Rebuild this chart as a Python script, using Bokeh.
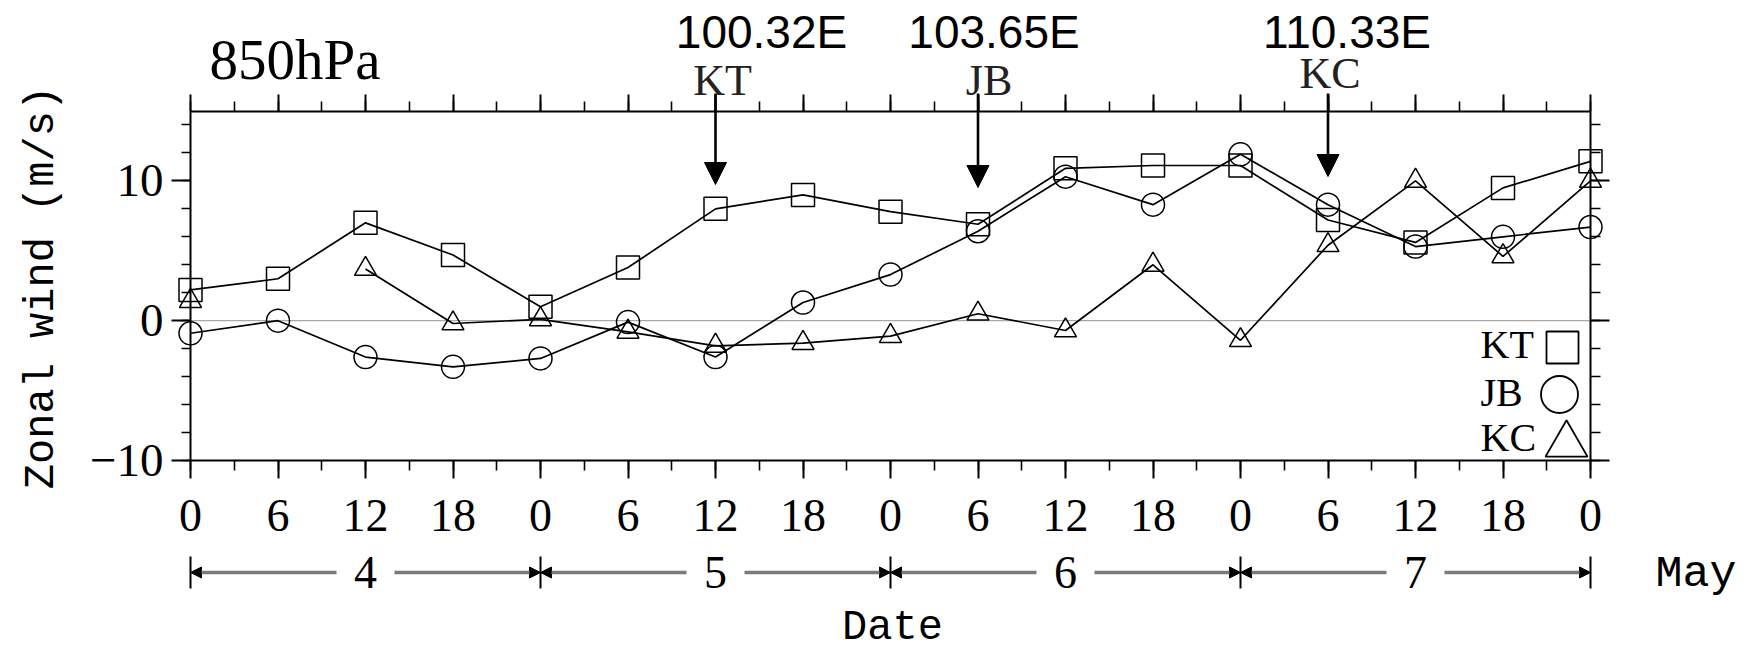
import math
from bokeh.plotting import figure
from bokeh.models import LinearAxis, FixedTicker, Range1d, Label, Arrow, NormalHead
from bokeh.embed import file_html
from bokeh.resources import INLINE

nan = float("nan")

# ---------------- data ----------------
hours = [0, 6, 12, 18, 24, 30, 36, 42, 48, 54, 60, 66, 72, 78, 84, 90, 96]
hour_labels = ["0", "6", "12", "18", "0", "6", "12", "18", "0", "6", "12", "18",
               "0", "6", "12", "18", "0"]
kt = [2.2, 3.0, 7.0, 4.7, 1.0, 3.8, 8.0, 9.0, 7.8, 6.9, 10.9, 11.1, 11.1, 7.2, 5.6, 9.5, 11.4]
jb = [-0.9, 0.0, -2.6, -3.3, -2.7, -0.1, -2.6, 1.3, 3.3, 6.4, 10.3, 8.3, 11.9, 8.3, 5.3, 6.0, 6.7]
kc = [1.4, nan, 3.7, -0.2, 0.1, -0.8, -1.8, -1.6, -1.1, 0.5, -0.7, 4.0, -1.4, 5.4, 10.0, 4.6, 10.0]
days = ["4", "5", "6", "7"]
day_start_hours = [0, 24, 48, 72]
stations = ["KT", "JB", "KC"]
station_hours = [36, 54, 78]
station_lons = ["100.32E", "103.65E", "110.33E"]
y_ticks = [-10, 0, 10]
y_tick_labels = ["\u221210", "0", "10"]
Y_MIN, Y_MAX = -10, 15
X_MIN, X_MAX = hours[0], hours[-1]

# ---------------- layout (canvas pixels -> data) ----------------
W, H = 1751, 650
BOX_L, BOX_R, BOX_T, BOX_B = 190.0, 1590.0, 110.5, 460.0
PXH = (BOX_R - BOX_L) / (X_MAX - X_MIN)
PXU = (BOX_B - BOX_T) / (Y_MAX - Y_MIN)


def dx(px):
    return X_MIN + (px - BOX_L) / PXH


def dy(py):
    return Y_MAX - (py - BOX_T) / PXU


p = figure(width=W, height=H,
           x_range=Range1d(dx(0), dx(W)), y_range=Range1d(dy(H), dy(0)),
           min_border_left=0, min_border_right=0, min_border_top=0, min_border_bottom=0,
           x_axis_location=None, y_axis_location=None,
           output_backend="svg", toolbar_location=None)
p.title.visible = False
p.xgrid.visible = False
p.ygrid.visible = False
p.outline_line_color = None
p.background_fill_color = "white"
p.border_fill_color = "white"

SERIF = "Liberation Serif"
MONO = "Liberation Mono"
SANS = "Liberation Sans"
INK = "black"


def style_axis(ax, mj_out, mn_out):
    ax.axis_line_color = INK
    ax.axis_line_width = 2
    ax.major_tick_line_width = 2
    ax.minor_tick_line_width = 1.6
    ax.major_tick_in = 0
    ax.minor_tick_in = 0
    ax.major_tick_out = mj_out
    ax.minor_tick_out = mn_out
    ax.major_label_text_font = SERIF
    ax.major_label_text_color = INK


y_minor = list(range(-10, 16, 2))
x_minor = list(range(0, 97, 3))

left = LinearAxis(ticker=FixedTicker(ticks=y_ticks, minor_ticks=y_minor),
                  fixed_location=X_MIN, bounds=(Y_MIN, Y_MAX))
style_axis(left, 19, 9)
left.major_label_overrides = {t: s for t, s in zip(y_ticks, y_tick_labels)}
left.major_label_text_font_size = "47px"
left.major_label_standoff = 8
p.add_layout(left, "left")

right = LinearAxis(ticker=FixedTicker(ticks=y_ticks, minor_ticks=y_minor),
                   fixed_location=X_MAX, bounds=(Y_MIN, Y_MAX))
style_axis(right, 19, 10)
right.major_label_overrides = {t: "" for t in y_ticks}
p.add_layout(right, "right")

bottom = LinearAxis(ticker=FixedTicker(ticks=hours, minor_ticks=x_minor),
                    fixed_location=Y_MIN, bounds=(X_MIN, X_MAX))
style_axis(bottom, 18, 10)
bottom.major_label_overrides = {h: s for h, s in zip(hours, hour_labels)}
bottom.major_label_text_font_size = "46px"
bottom.major_label_standoff = 21
p.add_layout(bottom, "below")

top = LinearAxis(ticker=FixedTicker(ticks=hours, minor_ticks=x_minor),
                 fixed_location=Y_MAX, bounds=(X_MIN, X_MAX))
style_axis(top, 17, 10)
top.major_label_overrides = {h: "" for h in hours}
p.add_layout(top, "above")

# zero line
p.line([X_MIN, X_MAX], [0, 0], line_color="#a8a8a8", line_width=1.2)

# series
for vals, marker, size in [(kt, "square", 23), (jb, "circle", 23), (kc, "triangle", 22)]:
    p.line(hours, vals, line_color=INK, line_width=1.7)
    p.scatter(hours, vals, marker=marker, size=size, fill_color=None,
              line_color=INK, line_width=1.5)


def text(x, y, s, font, size, align="center", angle=0.0, x_offset=0, color=INK):
    p.add_layout(Label(x=x, y=y, x_offset=x_offset, text=s, text_font=font,
                       text_font_size=size, text_color=color, text_align=align,
                       text_baseline="middle", angle=angle))


# legend (drawn manually: text left of symbol)
leg_text_y = [344, 391.5, 436.5]
leg_sym_xy = [(1562, 347), (1559, 394), (1566, 444)]
leg_markers = [("square", 32), ("circle", 37), ("triangle", 42)]
for name, ty, (sx, sy), (mk, ms) in zip(stations, leg_text_y, leg_sym_xy, leg_markers):
    text(dx(1480), dy(ty), name, SERIF, "40px", align="left")
    p.scatter([dx(sx)], [dy(sy)], marker=mk, size=ms, fill_color=None,
              line_color=INK, line_width=1.8)

# station arrows and labels
arrow_tip_px = [184, 187, 176]
name_offsets = [7, 11, 2]
name_mid_px = [80, 80, 73]
lon_offsets = [46, 16, 19]
for h, name, lon, tip, no, nm, lo in zip(station_hours, stations, station_lons,
                                           arrow_tip_px, name_offsets, name_mid_px, lon_offsets):
    p.add_layout(Arrow(end=NormalHead(size=22, fill_color=INK, line_color=INK, line_width=1),
                       x_start=h, y_start=dy(93), x_end=h, y_end=dy(tip),
                       line_color=INK, line_width=2.6))
    text(h, dy(nm), name, SERIF, "44px", x_offset=no, color="#222222")
    text(h, dy(31), lon, SANS, "46px", x_offset=lo)

# title
text(dx(209), dy(59), "850hPa", SERIF, "57px", align="left")

# y axis title
text(dx(41), dy(287), "Zonal wind (m/s)", MONO, "42px", angle=math.pi / 2)

# day row
ROW = 572
GAP = 29 / PXH
for d, s in zip(days, day_start_hours):
    c = s + 12
    for x0, x1 in [(c - GAP, s), (c + GAP, s + 24)]:
        p.add_layout(Arrow(end=NormalHead(size=11, fill_color=INK, line_color=INK, line_width=1),
                           x_start=x0, y_start=dy(ROW), x_end=x1, y_end=dy(ROW),
                           line_color="#7a7a7a", line_width=3.5))
    text(c, dy(ROW), d, SERIF, "46px")
for b in day_start_hours + [X_MAX]:
    p.add_layout(Arrow(start=None, end=None, x_start=b, y_start=dy(556), x_end=b, y_end=dy(588),
                       line_color=INK, line_width=2))

text(dx(1655), dy(574), "May", MONO, "45px", align="left")
text(dx(892), dy(627), "Date", MONO, "42px")

open("out.html", "w").write(file_html(p, INLINE))
